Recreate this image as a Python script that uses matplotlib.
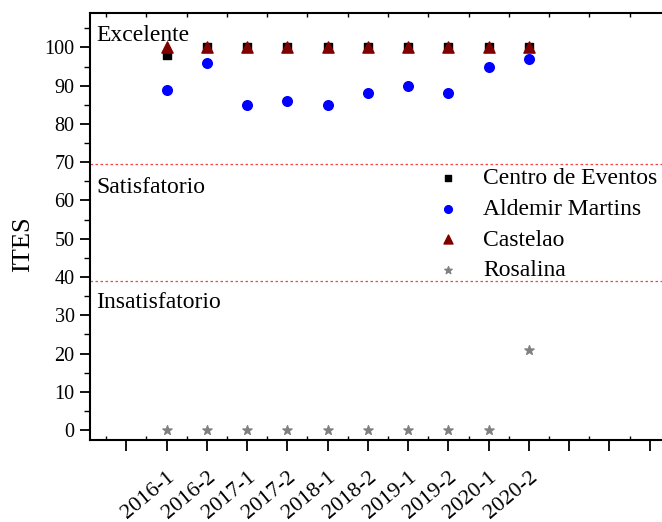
import matplotlib
matplotlib.use("Agg")
import matplotlib.pyplot as plt
from matplotlib.ticker import MultipleLocator, FixedLocator

plt.rcParams['font.family'] = ['Liberation Serif', 'DejaVu Serif']

periods = ["2016-1", "2016-2", "2017-1", "2017-2", "2018-1",
           "2018-2", "2019-1", "2019-2", "2020-1", "2020-2"]
centro = [98, 100, 100, 100, 100, 100, 100, 100, 100, 100]
aldemir = [89, 96, 85, 86, 85, 88, 90, 88, 95, 97]
castelao = [100, 100, 100, 100, 100, 100, 100, 100, 100, 100]
rosalina = [0, 0, 0, 0, 0, 0, 0, 0, 0, 21]
thresholds = [69.5, 39]
zone_labels = ["Excelente", "Satisfatorio", "Insatisfatorio"]
zone_label_y = [101.8, 61.9, 31.9]

fig = plt.figure(figsize=(6.62, 5.22), dpi=100)
ax = fig.add_axes([90/662, 82/522, 600/662, 427/522])

x = list(range(1, len(periods) + 1))
ax.scatter(x, centro, marker='s', s=30, color='black', label='Centro de Eventos', zorder=3)
ax.scatter(x, aldemir, marker='o', s=48, color='#0000FF', label='Aldemir Martins', zorder=3)
ax.scatter(x, castelao, marker='^', s=65, color='#800000', label='Castelao', zorder=4)
ax.scatter(x, rosalina, marker='*', s=48, color='#808080', label='Rosalina', zorder=4)

for t in thresholds:
    ax.axhline(t, color='#FF4040', linestyle=(0, (2, 2)), linewidth=0.9, zorder=1)

for lbl, yy in zip(zone_labels, zone_label_y):
    ax.text(-0.75, yy, lbl, fontsize=17, va='baseline', ha='left')

ax.set_xlim(-0.9, 14.0)
ax.set_ylim(-2.6, 109)

ax.xaxis.set_major_locator(FixedLocator(list(range(0, 15))))
ax.set_xticklabels([""] + periods + [""] * 4)
ax.xaxis.set_minor_locator(MultipleLocator(0.5))
ax.yaxis.set_major_locator(MultipleLocator(10))
ax.yaxis.set_minor_locator(MultipleLocator(5))

for lab in ax.get_xticklabels():
    lab.set_rotation(40)
    lab.set_ha('right')
    lab.set_rotation_mode('anchor')

ax.tick_params(axis='x', which='major', direction='out', length=8, width=1.3, labelsize=16, pad=12, top=False)
ax.tick_params(axis='x', which='minor', direction='in', length=3, width=1.0, top=True)
ax.tick_params(axis='y', which='major', direction='out', length=7, width=1.3, labelsize=14.5, pad=4)
ax.tick_params(axis='y', which='minor', direction='out', length=4, width=1.0)

ax.spines['right'].set_visible(False)
for s in ['left', 'bottom', 'top']:
    ax.spines[s].set_linewidth(1.5)

ax.set_ylabel("ITES", fontsize=19)
ax.yaxis.set_label_coords(-0.094, 0.459)

leg = ax.legend(loc='upper left', bbox_to_anchor=(0.561, 0.660), frameon=False,
                fontsize=17, handlelength=1.0, handletextpad=1.0, labelspacing=0.39,
                markerscale=0.8, borderaxespad=0)

fig.savefig("out.png", dpi=100)
